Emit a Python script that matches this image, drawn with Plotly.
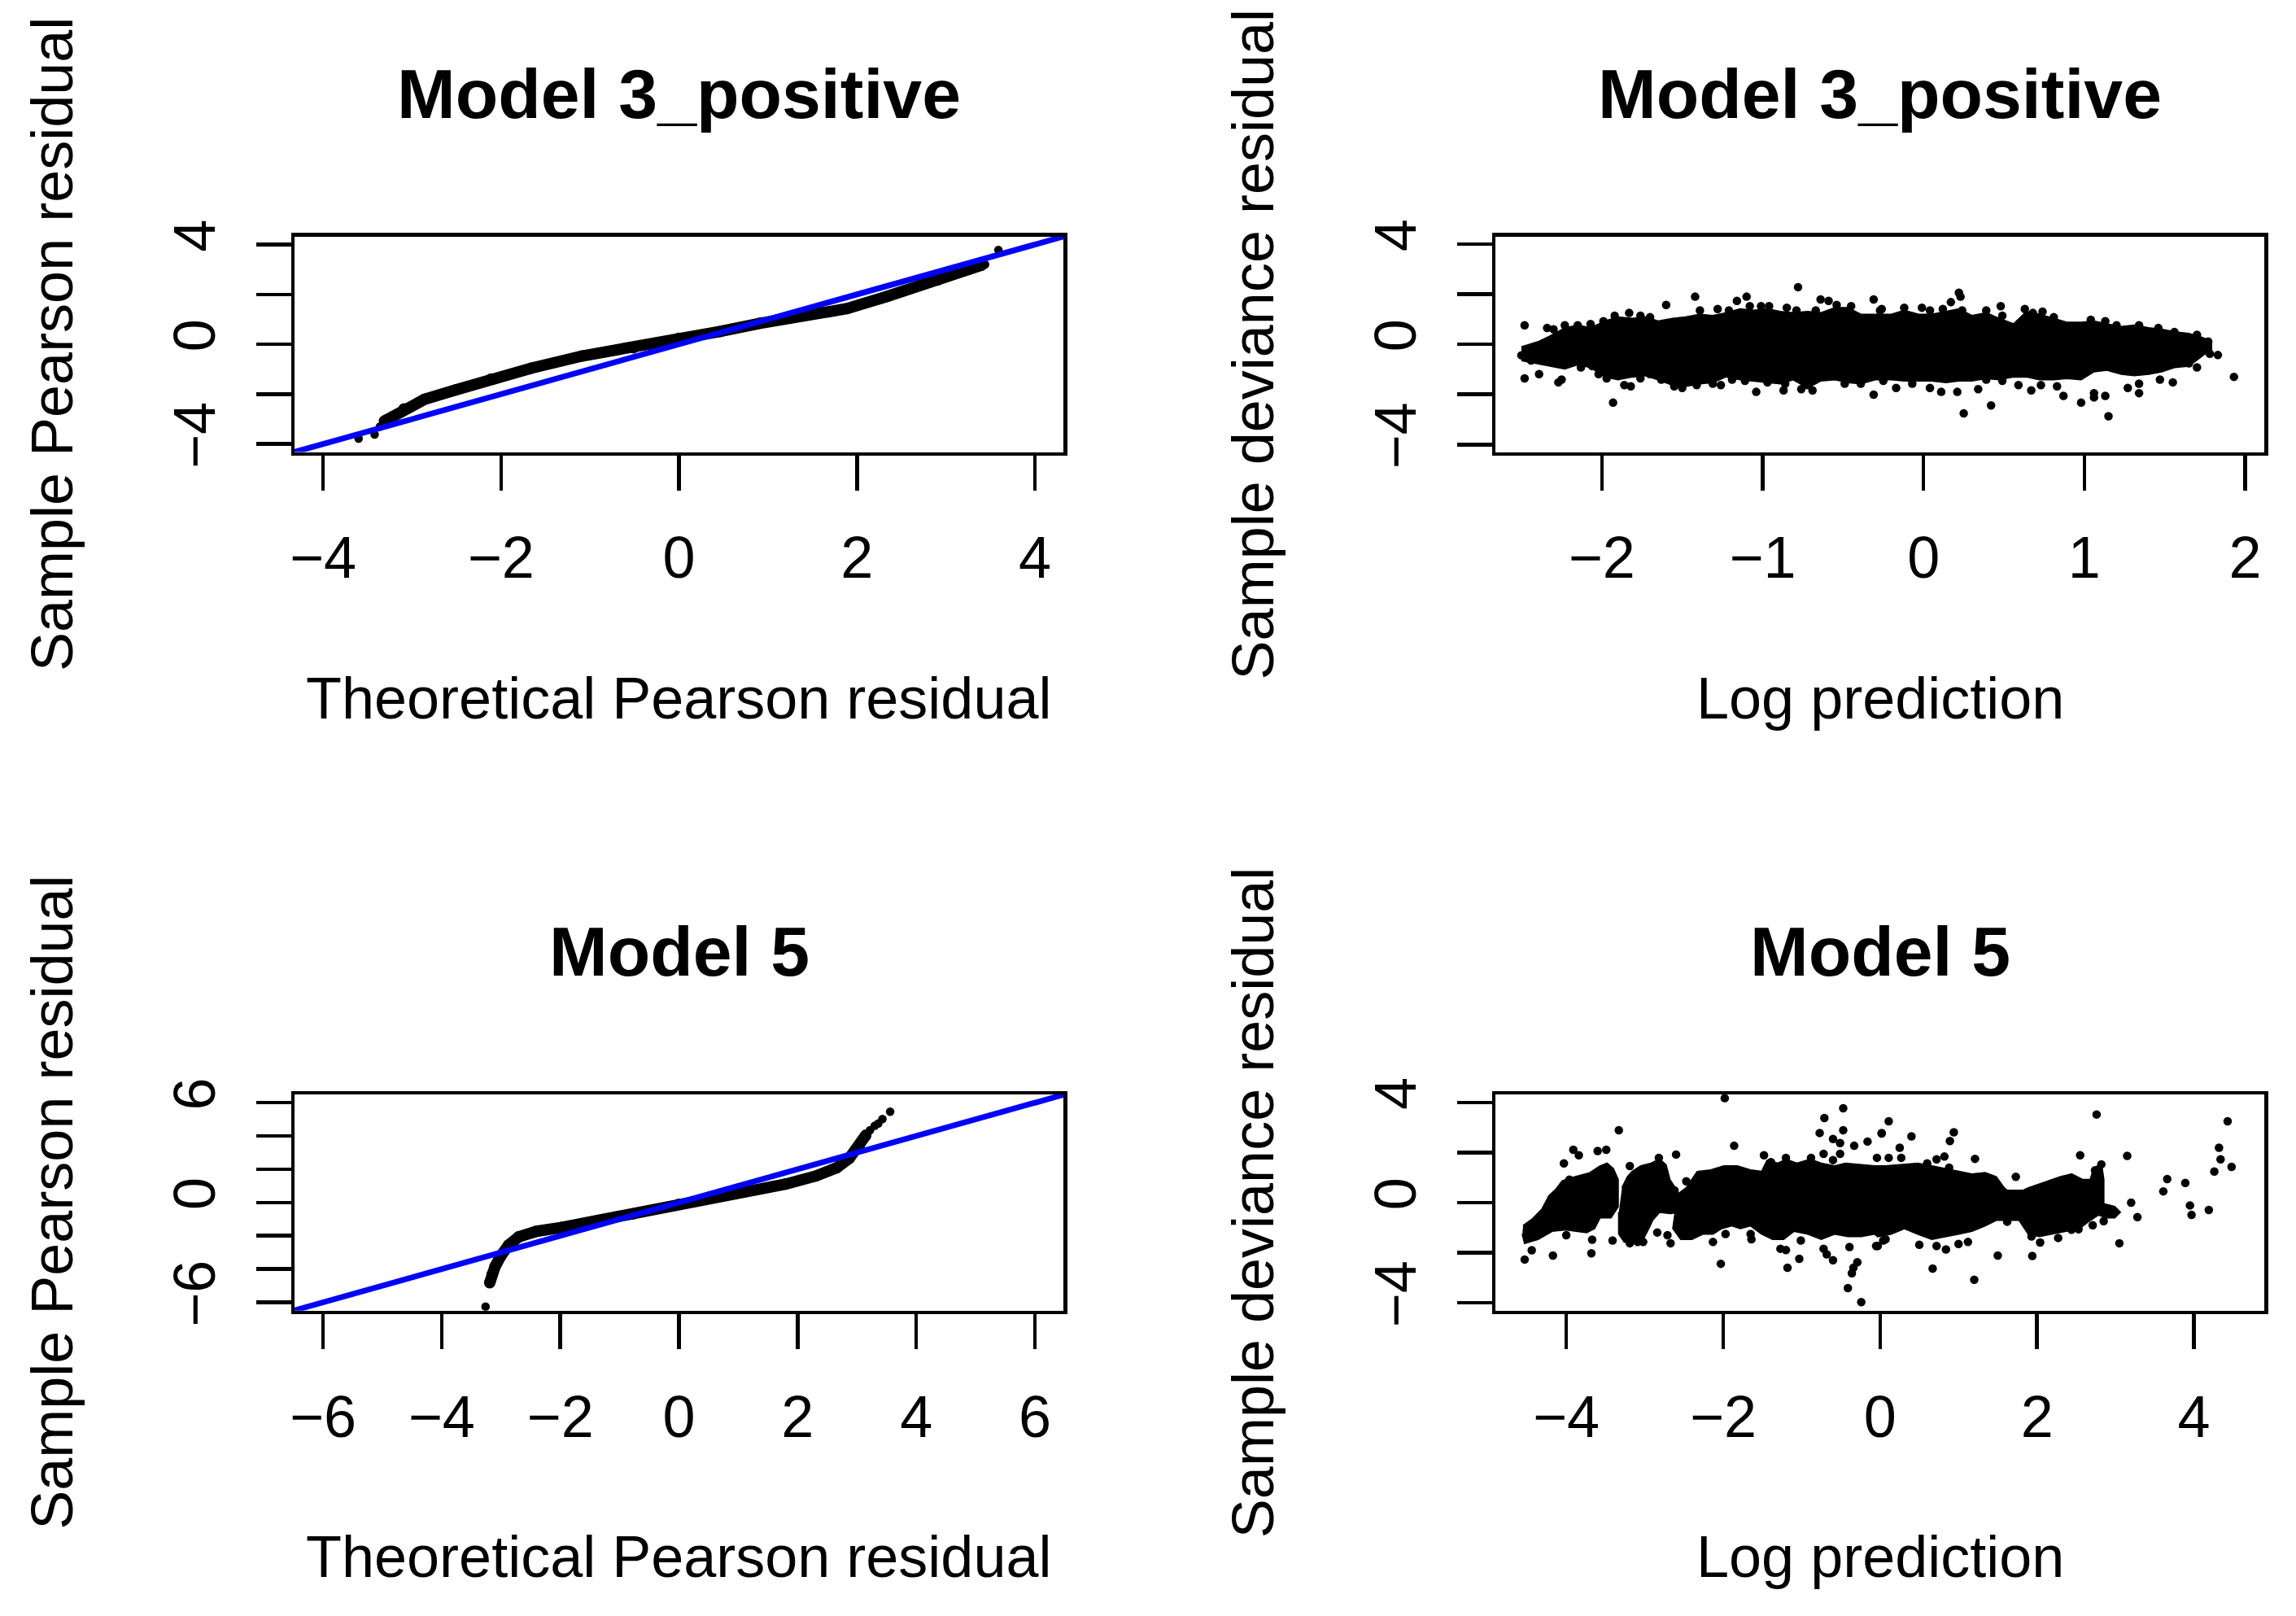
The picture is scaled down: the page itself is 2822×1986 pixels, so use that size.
import plotly.graph_objects as go

FONT = "Liberation Sans, Arial, Helvetica, sans-serif"
PAGE_W = 2822
BODY_MARGIN = 8                      # default page margin of the browser
FW, FH = PAGE_W - 2 * BODY_MARGIN, 1962

# ---------------- data ----------------
# Top-left: QQ plot, Model 3_positive (dense band of quantiles)
tl_theoretical = [-3.31, -3.09, -2.86, -2.51, -2.11, -1.66, -1.09, -0.51, 0.0, 0.46, 0.91, 1.49, 1.89, 2.34, 2.91, 3.26, 3.40]
tl_sample = [-3.08, -2.59, -2.21, -1.83, -1.39, -0.96, -0.47, -0.14, 0.24, 0.51, 0.84, 1.22, 1.43, 1.92, 2.58, 3.01, 3.17]
tl_tail_theoretical = [-3.60, -3.42, -3.36, 3.44, 3.59]
tl_tail_sample = [-3.78, -3.62, -3.30, 3.20, 3.78]

# Bottom-left: QQ plot, Model 5
bl_theoretical = [-3.19, -3.15, -3.10, -3.00, -2.87, -2.70, -2.40, -1.97, -1.46, -0.77, 0.0, 0.94, 1.80, 2.31, 2.66, 2.87, 3.04, 3.15]
bl_sample = [-4.83, -4.34, -3.85, -3.20, -2.55, -2.06, -1.73, -1.49, -1.16, -0.68, -0.10, 0.55, 1.11, 1.60, 2.09, 2.66, 3.39, 4.05]
bl_tail_theoretical = [-3.26, -3.19, -3.17, 3.15, 3.22, 3.30, 3.36, 3.43, 3.56]
bl_tail_sample = [-6.26, -4.83, -4.55, 4.05, 4.35, 4.62, 4.75, 5.02, 5.46]

# Top-right: deviance residual vs log prediction, Model 3_positive
# outline of the solid dense core (upper edge left->right, lower edge right->left)
tr_core_logpred = [-2.50, -2.39, -2.32, -2.23, -2.15, -2.07, -1.98, -1.90, -1.81, -1.73, -1.65, -1.56, -1.48, -1.39, -1.31,
                   -1.23, -1.14, -1.06, -0.97, -0.89, -0.81, -0.72, -0.64, -0.55, -0.47, -0.39, -0.30, -0.20, -0.12, -0.03,
                   0.05, 0.14, 0.22, 0.30, 0.39, 0.47, 0.56, 0.64, 0.72, 0.81, 0.89, 0.98, 1.06, 1.14, 1.23, 1.31, 1.40,
                   1.48, 1.56, 1.65, 1.73, 1.79, 1.79, 1.75,
                   1.65, 1.56, 1.48, 1.40, 1.31, 1.23, 1.14, 1.06, 0.98, 0.89, 0.81, 0.72, 0.64, 0.56, 0.47, 0.39, 0.30,
                   0.22, 0.14, 0.05, -0.03, -0.12, -0.20, -0.30, -0.39, -0.47, -0.55, -0.64, -0.72, -0.81, -0.89, -0.97,
                   -1.06, -1.14, -1.23, -1.31, -1.39, -1.48, -1.56, -1.65, -1.73, -1.81, -1.90, -1.98, -2.07, -2.15, -2.23,
                   -2.32, -2.40, -2.50]
tr_core_resid = [-0.11, 0.11, 0.33, 0.65, 0.76, 0.65, 0.92, 1.08, 1.03, 1.08, 0.92, 1.03, 1.08, 1.19, 1.14,
                 1.25, 1.41, 1.35, 1.41, 1.30, 1.25, 1.30, 1.25, 1.46, 1.46, 1.19, 1.19, 1.19, 1.35, 1.19,
                 1.19, 1.30, 1.41, 1.14, 1.25, 1.03, 0.81, 1.30, 1.19, 1.03, 0.87, 0.87, 0.92, 0.81, 0.70, 0.76, 0.65,
                 0.60, 0.49, 0.43, 0.27, 0.11, -0.22, -0.38,
                 -0.87, -0.92, -1.09, -1.19, -1.25, -1.19, -1.03, -1.09, -1.41, -1.36, -1.41, -1.41, -1.30, -1.30, -1.41, -1.36, -1.46,
                 -1.46, -1.52, -1.46, -1.46, -1.46, -1.41, -1.41, -1.57, -1.52, -1.41, -1.46, -1.74, -1.41, -1.57, -1.52,
                 -1.46, -1.41, -1.30, -1.52, -1.57, -1.68, -1.63, -1.41, -1.25, -1.30, -1.41, -1.30, -0.92, -0.81, -0.98,
                 -0.87, -0.76, -0.65]
# individual points around the core
tr_logpred = [-2.48, -2.34, -2.30, -2.48, -2.39, -2.44, -2.27, -1.93, -1.86, -1.82, -1.60, -1.42, -1.16, -1.10, -0.78,
              -0.64, -0.54, -0.31, -0.27, -1.04, -0.87, -0.31, -1.55, -1.50, -1.41, -1.31, -1.26, -0.76, -0.69, -2.13,
              -2.06, -2.23, -2.15, -2.07, -1.99, -1.92, -1.83, -1.76, -1.70, -1.39, -1.28, -1.21, -1.08, -1.01, -0.96,
              -0.85, -0.79, -0.67, -0.59, -0.45, -2.25, -2.02, -1.97, -1.76, -1.70, -1.63, -1.19, -1.11, -0.97, -0.86,
              -0.72, -0.49, -0.39, -0.25, -2.50,
              -0.26, -0.12, -0.01, 0.04, 0.12, 0.17, 0.22, 0.23, 0.24, 0.39, 0.48, 0.49, 0.63, 0.68, 0.74, 0.81, 1.04,
              1.13, 1.20, 1.34, 1.46, 1.56, 1.70, 1.77, 1.78, 1.83, 1.93, 1.70, 1.65, -0.17, 0.04, 0.11, 0.21, 0.34,
              0.25, 0.42, 0.67, 0.73, 0.83, 0.87, 0.98, 1.06, 1.06, 1.13, 1.15, 1.27, 1.34, 1.34, 1.47, 1.55, 0.59,
              0.49, 0.39, -0.07, -0.25]
tr_resid = [0.76, 0.65, 0.60, -1.36, -1.19, -0.65, -1.52, -2.33, -1.63, -1.68, 1.57, 1.90, 1.73, 1.90, 2.28,
            1.79, 1.57, 1.79, 1.35, -1.90, -1.84, -2.01, -1.68, -1.74, -1.63, -1.57, -1.63, -1.79, -1.84, -0.92,
            -0.87, 0.76, 0.76, 0.81, 0.92, 1.14, 1.25, 1.14, 1.08, 1.35, 1.41, 1.35, 1.52, 1.52, 1.52,
            1.46, 1.35, 1.35, 1.73, 1.52, -1.41, -1.19, -1.36, -1.36, -1.19, -1.41, -1.41, -1.46, -1.52, -1.57,
            -1.63, -1.57, -1.57, -1.46, -0.44,
            1.41, 1.46, 1.46, 1.35, 1.41, 1.68, 2.06, 1.90, 1.35, 1.35, 1.52, 1.14, 1.41, 1.25, 1.30, 1.08, 0.98,
            0.92, 0.76, 0.76, 0.65, 0.49, 0.38, 0.11, -0.38, -0.43, -1.30, -0.92, -0.76, -1.74, -1.74, -1.90, -1.90, -1.79,
            -2.76, -2.44, -1.84, -1.63, -1.68, -2.06, -2.33, -1.95, -2.12, -2.06, -2.87, -1.74, -1.95, -1.57, -1.41, -1.52, -1.63,
            -1.46, -1.41, -1.57, -1.41]

# Bottom-right: deviance residual vs log prediction, Model 5
# outlines of the solid dense clusters
br_core_a_logpred = [-4.55, -4.43, -4.31, -4.22, -4.13, -4.05, -3.96, -3.84, -3.70, -3.57, -3.48, -3.40, -3.34, -3.34,
                     -3.43, -3.57, -3.64, -3.74, -3.88, -4.01, -4.18, -4.36, -4.53, -4.56]
br_core_a_resid = [-0.92, -0.65, -0.27, 0.27, 0.54, 0.87, 0.97, 1.08, 1.19, 1.46, 1.57, 1.35, 0.92, -0.16,
                   -0.60, -0.60, -1.03, -1.19, -1.14, -1.08, -1.14, -1.46, -1.62, -1.25]
br_core_b_logpred = [-3.29, -3.22, -3.16, -3.05, -2.92, -2.81, -2.73, -2.68, -2.59, -2.54, -2.54, -2.68, -2.81, -2.90,
                     -2.95, -3.02, -3.16, -3.26, -3.33, -3.33]
br_core_b_resid = [0.59, 1.03, 1.24, 1.46, 1.57, 1.73, 1.51, 0.92, 0.49, 0.16, -0.38, -0.43, -0.38, -0.70,
                   -1.03, -1.46, -1.62, -1.57, -1.25, -0.38]
br_core_c_logpred = [-2.61, -2.47, -2.33, -2.16, -1.99, -1.82, -1.65, -1.51, -1.44, -1.30, -1.20, -1.06, -0.89, -0.75,
                     -0.58, -0.44, -0.24, -0.07, 0.07, 0.31, 0.48, 0.66, 0.83, 1.00, 1.17, 1.34, 1.48, 1.58, 1.62, 1.82,
                     1.82, 1.62, 1.48, 1.34, 1.17, 1.00, 0.83, 0.66, 0.48, 0.31, 0.14, -0.03, -0.07, -0.24, -0.41,
                     -0.58, -0.75, -0.92, -1.10, -1.23, -1.37, -1.51, -1.65, -1.78, -1.89, -2.02, -2.13, -2.26, -2.40,
                     -2.54, -2.64, -2.61]
br_core_c_resid = [0.27, 0.59, 1.24, 1.30, 1.46, 1.46, 1.30, 1.24, 1.68, 1.57, 1.73, 1.57, 1.73, 1.57,
                   1.46, 1.57, 1.51, 1.46, 1.46, 1.51, 1.57, 1.46, 1.35, 1.24, 1.14, 1.19, 1.03, 0.59, 0.49, 0.49,
                   -0.70, -0.70, -0.70, -0.92, -1.14, -1.25, -1.35, -1.46, -1.25, -1.03, -1.25, -1.35, -1.25, -1.35, -1.35,
                   -1.25, -1.46, -1.25, -1.14, -1.46, -1.46, -1.25, -0.92, -1.03, -0.92, -1.03, -1.25, -1.25, -1.46,
                   -1.46, -1.03, -0.38]
br_core_d_logpred = [1.75, 1.89, 2.10, 2.30, 2.44, 2.58, 2.68, 2.72, 2.82, 2.85, 2.85, 2.85, 2.99, 3.06, 2.99, 2.89,
                     2.78, 2.68, 2.54, 2.37, 2.20, 2.03, 1.89, 1.82, 1.75]
br_core_d_resid = [0.38, 0.59, 0.81, 1.03, 1.14, 0.92, 0.92, 1.35, 1.57, 0.92, 0.27, -0.05, -0.16, -0.38, -0.60, -0.60,
                   -0.49, -0.70, -1.03, -1.14, -1.25, -1.35, -1.25, -0.92, -0.60]
# individual points
br_logpred = [-1.98, -3.33, -3.91, -3.84, -3.60, -3.49, -4.03, -3.96, -3.19, -2.82, -2.60, -2.47, -2.62, -1.86, -1.48,
              -1.20, -1.39, -0.88, -0.72, -0.77, -0.71, -0.47, -0.47, -0.60, -0.51, -0.33, -0.16, 0.02, -0.51, -0.60,
              -0.04, -4.53, -4.44, -4.17, -4.00, -3.68, -3.67, -3.41, -3.19, -3.09, -3.02, -2.84, -2.71, -2.67, -2.13,
              -1.97, -2.03, -1.64, -1.27, -1.20, -1.18, -1.03, -0.72, -0.68, -0.60, -0.39, -0.29, -0.34, -0.36, -0.41,
              -0.24, -0.05, 0.04, -1.01, -1.65,
              0.11, 0.02, 0.40, 0.25, 0.94, 0.89, 0.27, 0.11, 0.60, 0.72, 0.82, 0.88, 1.21, 1.73, 2.55, 2.76, 3.15,
              3.66, 3.61, 3.89, 3.20, 3.28, 3.95, 3.97, 4.19, 4.43, 4.32, 4.34, 4.26, 4.48, 3.05, 2.71, 2.85, 1.50,
              1.94, 0.67, 1.20, 0.84, 0.72, 0.50, 1.00, 1.12, 1.62, 1.93, 2.04, 2.27, 2.44, 2.53, 0.07, -0.03, 2.74,
              2.82]
br_resid = [4.17, 2.89, 2.11, 1.89, 2.06, 2.11, 1.57, 0.92, 1.46, 1.79, 1.92, 0.85, 0.49, 2.27, 1.89,
            1.79, 1.62, 1.79, 1.95, 2.78, 3.38, 3.77, 2.89, 2.54, 2.38, 2.27, 2.44, 2.76, 1.95, 1.70,
            1.79, -2.27, -1.90, -2.11, -1.30, -2.02, -1.48, -1.51, -1.62, -1.57, -1.57, -1.19, -1.30, -1.62, -1.57,
            -1.25, -2.44, -1.46, -1.84, -1.89, -2.60, -2.24, -1.84, -2.06, -2.30, -1.77, -2.38, -2.60, -2.82, -3.41,
            -3.97, -1.73, -1.51, -1.51, -1.25,
            3.25, 2.78, 2.65, 2.19, 2.81, 2.46, 1.79, 1.79, 1.57, 1.73, 1.84, 1.40, 1.75, 1.03, 1.89, 3.52, 1.87,
            0.94, 0.45, 0.79, 0.0, -0.58, -0.11, -0.49, -0.29, 3.25, 2.19, 1.73, 1.24, 1.43, -1.62, -0.90, -0.74, -2.11,
            -2.13, -2.63, -3.08, -1.87, -1.73, -1.68, -1.65, -1.57, -0.76, -1.35, -1.59, -1.41, -1.08, -1.06, -1.46, -1.73, 1.29,
            1.53]

# reference line of the QQ plots: sample = intercept + slope * theoretical
qq_intercept, qq_slope = 0.0, 1.0

# axis ranges and ticks
tl_xrange, tl_yrange = [-4.32, 4.32], [-4.32, 4.32]
tr_xrange, tr_yrange = [-2.66, 2.12], [-4.3, 4.3]
bl_xrange, bl_yrange = [-6.48, 6.48], [-6.5, 6.5]
br_xrange, br_yrange = [-4.90, 4.90], [-4.31, 4.32]

tl_xticks = [-4, -2, 0, 2, 4]
tl_xticklabels = ["\u22124", "\u22122", "0", "2", "4"]
tl_yticks = [-4, -2, 0, 2, 4]
tl_yticklabels = ["\u22124", "", "0", "", "4"]
tr_xticks = [-2, -1, 0, 1, 2]
tr_xticklabels = ["\u22122", "\u22121", "0", "1", "2"]
tr_yticks = [-4, -2, 0, 2, 4]
tr_yticklabels = ["\u22124", "", "0", "", "4"]
bl_xticks = [-6, -4, -2, 0, 2, 4, 6]
bl_xticklabels = ["\u22126", "\u22124", "\u22122", "0", "2", "4", "6"]
bl_yticks = [-6, -4, -2, 0, 2, 4, 6]
bl_yticklabels = ["\u22126", "", "", "0", "", "", "6"]
br_xticks = [-4, -2, 0, 2, 4]
br_xticklabels = ["\u22124", "\u22122", "0", "2", "4"]
br_yticks = [-4, -2, 0, 2, 4]
br_yticklabels = ["\u22124", "", "0", "", "4"]

titles = ["Model 3_positive", "Model 3_positive", "Model 5", "Model 5"]
xtitles = ["Theoretical Pearson residual", "Log prediction", "Theoretical Pearson residual", "Log prediction"]
ytitles = ["Sample Pearson residual", "Sample deviance residual", "Sample Pearson residual", "Sample deviance residual"]

# ---------------- figure ----------------
fig = go.Figure()

def fx(p):
    return (p - BODY_MARGIN) / FW

def fy(p):
    return 1 - (p - BODY_MARGIN) / FH

# panel boxes in page pixels (left, right, top, bottom)
boxes = [(362, 1307, 290.7, 555.5), (1838.3, 2783.3, 290.7, 555.5),
         (362, 1307, 1345, 1610.7), (1838.3, 2783.3, 1345, 1610.7)]

DOT = 10.5
BLACK = "black"

def add_qq(theo, samp, t_theo, t_samp, xr, ax):
    xa, ya = ("x" + ax, "y" + ax)
    fig.add_trace(go.Scatter(x=theo, y=samp, mode="lines+markers", xaxis=xa, yaxis=ya,
                             line=dict(color=BLACK, width=14),
                             marker=dict(color=BLACK, size=14, line=dict(width=0)),
                             hoverinfo="skip", showlegend=False))
    fig.add_trace(go.Scatter(x=t_theo, y=t_samp, mode="markers", xaxis=xa, yaxis=ya,
                             marker=dict(color=BLACK, size=DOT, line=dict(width=0)),
                             hoverinfo="skip", showlegend=False))
    fig.add_trace(go.Scatter(x=xr, y=[qq_intercept + qq_slope * v for v in xr], mode="lines",
                             xaxis=xa, yaxis=ya, line=dict(color="#0000ff", width=7),
                             hoverinfo="skip", showlegend=False))

def add_core(xs, ys, ax):
    fig.add_trace(go.Scatter(x=xs, y=ys, mode="lines", fill="toself", fillcolor=BLACK,
                             xaxis="x" + ax, yaxis="y" + ax,
                             line=dict(color=BLACK, width=2), hoverinfo="skip", showlegend=False))

def add_points(xs, ys, ax):
    fig.add_trace(go.Scatter(x=xs, y=ys, mode="markers", xaxis="x" + ax, yaxis="y" + ax,
                             marker=dict(color=BLACK, size=DOT, line=dict(width=0)),
                             hoverinfo="skip", showlegend=False))

add_qq(tl_theoretical, tl_sample, tl_tail_theoretical, tl_tail_sample, tl_xrange, "")
add_core(tr_core_logpred, tr_core_resid, "2")
add_points(tr_logpred, tr_resid, "2")
add_qq(bl_theoretical, bl_sample, bl_tail_theoretical, bl_tail_sample, bl_xrange, "3")
add_core(br_core_a_logpred, br_core_a_resid, "4")
add_core(br_core_b_logpred, br_core_b_resid, "4")
add_core(br_core_c_logpred, br_core_c_resid, "4")
add_core(br_core_d_logpred, br_core_d_resid, "4")
add_points(br_logpred, br_resid, "4")

TICKFONT = dict(family=FONT, size=72, color=BLACK)

def axis(rng, vals, text, domain, anchor, is_y):
    d = dict(range=rng, domain=domain, anchor=anchor, showline=True, mirror=True,
             linecolor=BLACK, linewidth=4.5, ticks="outside", ticklen=43, tickwidth=4.5,
             tickcolor=BLACK, tickmode="array", tickvals=vals, ticktext=text, tickfont=TICKFONT,
             showgrid=False, zeroline=False, fixedrange=True, automargin=False)
    if is_y:
        d["tickangle"] = -90
        d["ticklabelstandoff"] = 22
    else:
        d["ticklabelstandoff"] = 21
    return d

specs = [(tl_xrange, tl_xticks, tl_xticklabels, tl_yrange, tl_yticks, tl_yticklabels),
         (tr_xrange, tr_xticks, tr_xticklabels, tr_yrange, tr_yticks, tr_yticklabels),
         (bl_xrange, bl_xticks, bl_xticklabels, bl_yrange, bl_yticks, bl_yticklabels),
         (br_xrange, br_xticks, br_xticklabels, br_yrange, br_yticks, br_yticklabels)]

layout_axes = {}
annotations = []
for i, (box, sp) in enumerate(zip(boxes, specs)):
    l, r, t, b = box
    suffix = "" if i == 0 else str(i + 1)
    xdom = [fx(l), fx(r)]
    ydom = [fy(b), fy(t)]
    layout_axes["xaxis" + suffix] = axis(sp[0], sp[1], sp[2], xdom, "y" + suffix, False)
    layout_axes["yaxis" + suffix] = axis(sp[3], sp[4], sp[5], ydom, "x" + suffix, True)
    cx = (l + r) / 2
    cy = (t + b) / 2
    annotations.append(dict(text="<b>%s</b>" % titles[i], x=fx(cx), y=fy(t - 176),
                            xref="paper", yref="paper", showarrow=False, xanchor="center", yanchor="middle",
                            font=dict(family=FONT, size=86, color=BLACK)))
    annotations.append(dict(text=xtitles[i], x=fx(cx), y=fy(b + 302),
                            xref="paper", yref="paper", showarrow=False, xanchor="center", yanchor="middle",
                            font=dict(family=FONT, size=72, color=BLACK)))
    annotations.append(dict(text=ytitles[i], x=fx(l - 298), y=fy(cy), textangle=-90,
                            xref="paper", yref="paper", showarrow=False, xanchor="center", yanchor="middle",
                            font=dict(family=FONT, size=72, color=BLACK)))

fig.update_layout(width=FW, height=FH, margin=dict(l=0, r=0, t=0, b=0, pad=0, autoexpand=False),
                  paper_bgcolor="white", plot_bgcolor="white", showlegend=False,
                  font=dict(family=FONT, color=BLACK), annotations=annotations, **layout_axes)

fig.write_html("out.html", config={"displayModeBar": False, "staticPlot": True})
